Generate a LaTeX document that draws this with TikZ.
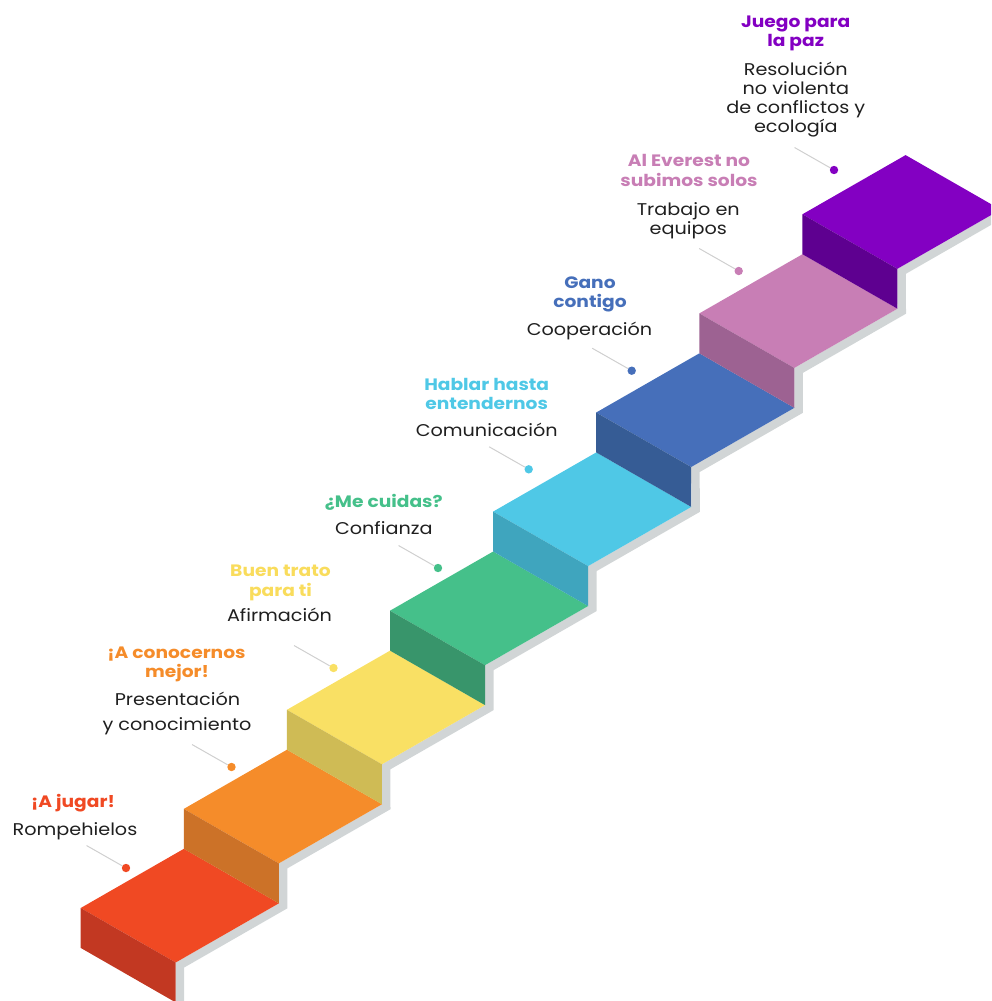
\documentclass[tikz,border=0pt]{standalone}
\usepackage{fontspec}
\setmainfont{Poppins}[FakeStretch=1.13]
\definecolor{c1}{HTML}{F04923}\definecolor{c1d}{HTML}{C23822}
\definecolor{c2}{HTML}{F58C2A}\definecolor{c2d}{HTML}{CC7228}
\definecolor{c3}{HTML}{F9E064}\definecolor{c3d}{HTML}{CFBB55}
\definecolor{c4}{HTML}{45C08A}\definecolor{c4d}{HTML}{38956B}
\definecolor{c5}{HTML}{4FC8E6}\definecolor{c5d}{HTML}{3FA5BE}
\definecolor{c6}{HTML}{466FBA}\definecolor{c6d}{HTML}{365C95}
\definecolor{c7}{HTML}{C87EB5}\definecolor{c7d}{HTML}{9D6292}
\definecolor{c8}{HTML}{8300C2}\definecolor{c8d}{HTML}{5E0090}
\definecolor{t3}{HTML}{F9DC5C}
\definecolor{sidegray}{HTML}{D1D5D6}
\definecolor{leader}{HTML}{D0D0D0}
\definecolor{subtext}{HTML}{1F1F1F}
\tikzset{
  ttl/.style={anchor=base, inner sep=0pt, font=\fontsize{16.5}{19}\selectfont\bfseries},
  sub/.style={anchor=base, inner sep=0pt, text=subtext, font=\fontsize{17}{20}\selectfont},
  dotmark/.style={circle, inner sep=0pt, minimum size=8.4pt},
  leadline/.style={draw=leader, line width=1pt},
}
\begin{document}
\begin{tikzpicture}[x=1pt,y=-1pt]
\useasboundingbox (0,0) rectangle (991,1001);
\clip (0,0) rectangle (991,1001);
% side band
\fill[sidegray] (175.7,1010)
  \foreach \i in {0,...,7}{ -- ({175.7+103.1*\i},{962.5-99.1*\i}) -- ({278.9+103.1*\i},{903.3-99.1*\i}) }
  \foreach \i in {7,...,0}{ -- ({287.4+103.1*\i},{908.3-99.1*\i}) -- ({184.2+103.1*\i},{967.5-99.1*\i}) }
  -- (184.2,1010) -- cycle;
% steps
\foreach \i/\tp/\fr in {0/c1/c1d,1/c2/c2d,2/c3/c3d,3/c4/c4d,4/c5/c5d,5/c6/c6d,6/c7/c7d,7/c8/c8d}{
  \coordinate (L\i) at ({80.7+103.1*\i},{908-99.1*\i});
  \fill[\tp] (L\i) -- ++(103.2,-59.2) -- ++(95,54.5) -- ++(-103.2,59.2) -- cycle;
  \fill[\fr] (L\i) -- ++(95,54.5) -- ++(0,39.9) -- ++(-95,-54.5) -- cycle;
}
% dots and leaders
\foreach \n/\x/\y/\c in {1/126/868/c1,2/231.5/767/c2,3/333.5/668/c3,4/438/568/c4,5/528.7/469.3/c5,6/631.7/370.7/c6,7/738.7/271/c7,8/834/170/c8}{
  \node[dotmark, fill=\c] (d\n) at (\x,\y) {};
  \coordinate (e\n) at ({\x-39.5},{\y-22.5});
  \draw[leadline] (e\n) -- (d\n);
}
% labels
\node[ttl, text=c1] (t1a) at (73,807) {¡A jugar!};
\node[sub] (s1a) at (75,835) {Rompehielos};
\node[ttl, text=c2] (t2a) at (176.5,658) {¡A conocernos};
\node[ttl, text=c2] (t2b) at (177,677) {mejor!};
\node[sub] (s2a) at (177.5,705) {Presentación};
\node[sub] (s2b) at (177,730.7) {y conocimiento};
\node[ttl, text=t3] (t3a) at (280.5,576.7) {Buen trato};
\node[ttl, text=t3] (t3b) at (280.5,596.7) {para ti};
\node[sub] (s3a) at (279.5,621.7) {Afirmación};
\node[ttl, text=c4] (t4a) at (383.8,507.3) {¿Me cuidas?};
\node[sub] (s4a) at (383.8,534) {Confianza};
\node[ttl, text=c5] (t5a) at (486.7,390.7) {Hablar hasta};
\node[ttl, text=c5] (t5b) at (486.7,409.3) {entendernos};
\node[sub] (s5a) at (486.7,436.7) {Comunicación};
\node[ttl, text=c6] (t6a) at (590,288.3) {Gano};
\node[ttl, text=c6] (t6b) at (590,307.7) {contigo};
\node[sub] (s6a) at (589.5,335) {Cooperación};
\node[ttl, text=c7] (t7a) at (689,166.7) {Al Everest no};
\node[ttl, text=c7] (t7b) at (689,186.7) {subimos solos};
\node[sub] (s7a) at (688.3,215) {Trabajo en};
\node[sub] (s7b) at (688.3,234) {equipos};
\node[ttl, text=c8] (t8a) at (795.7,27.3) {Juego para};
\node[ttl, text=c8] (t8b) at (795.7,46.7) {la paz};
\node[sub] (s8a) at (795.8,75) {Resolución};
\node[sub] (s8b) at (795.8,94) {no violenta};
\node[sub] (s8c) at (795.8,113.3) {de conflictos y};
\node[sub] (s8d) at (795.8,132.7) {ecología};
\end{tikzpicture}
\end{document}
